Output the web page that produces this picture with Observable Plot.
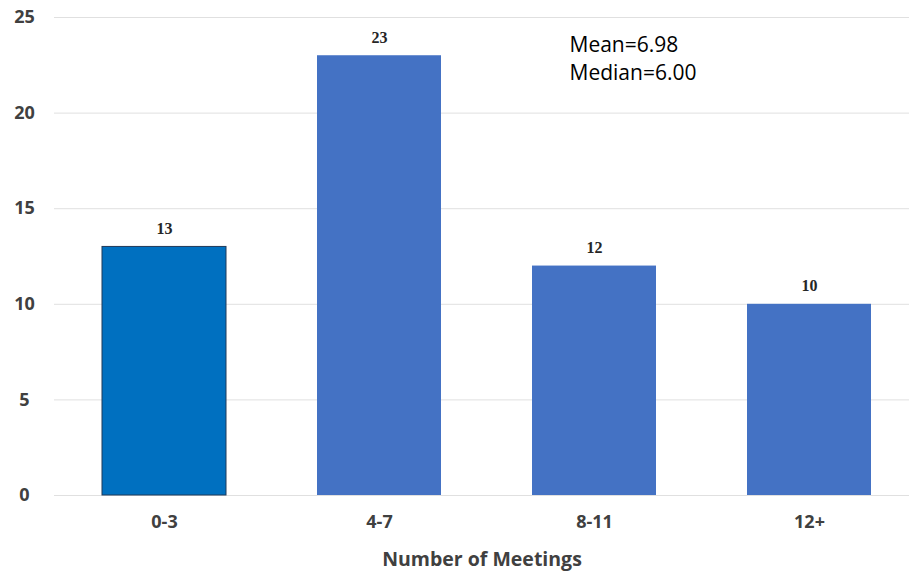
<!DOCTYPE html>
<html>
<head>
<meta charset="utf-8">
<script src="https://cdn.jsdelivr.net/npm/d3@7"></script>
<script src="https://cdn.jsdelivr.net/npm/@observablehq/plot@0.6"></script>
<style>
  body { margin: 0; background: #fff; }
  #chart svg { display: block; }
</style>
</head>
<body>
<div id="chart"></div>
<script>
const categories = ["0-3", "4-7", "8-11", "12+"];
const counts = [13, 23, 12, 10];
const yTicks = [0, 5, 10, 15, 20, 25];
const annotations = ["Mean=6.98", "Median=6.00"];
const xTitle = "Number of Meetings";

const data = categories.map((c, i) => ({category: c, count: counts[i], first: i === 0}));

const chart = Plot.plot({
  width: 909,
  height: 576,
  marginLeft: 54,
  marginRight: 0,
  marginTop: 17,
  marginBottom: 81,
  style: {fontFamily: "'Open Sans', sans-serif", background: "#fff"},
  x: {domain: categories, range: [55, 918], paddingInner: 0.425, paddingOuter: 0.2125, align: 0.5, label: null},
  y: {domain: [0, 25], label: null},
  marks: [
    Plot.ruleY(yTicks, {stroke: "#e0e0e0", strokeWidth: 1}),
    Plot.barY(data.filter(d => d.first), {x: "category", y: "count", fill: "#0070C0", stroke: "#1f3a5a", strokeWidth: 1}),
    Plot.barY(data.filter(d => !d.first), {x: "category", y: "count", fill: "#4472C4"}),
    Plot.text(data, {x: "category", y: "count", text: d => String(d.count), dy: -18, fill: "#262626",
      fontFamily: "'Liberation Serif', serif", fontWeight: "bold", fontSize: 16}),
    Plot.axisY({ticks: yTicks, tickSize: 0, tickPadding: 0, textAnchor: "middle", dx: -30,
      fontSize: 18, fontWeight: "bold", fill: "#404040", label: null}),
    Plot.axisX({tickSize: 0, tickPadding: 20, fontSize: 18, fontWeight: "bold", fill: "#404040", label: null}),
    Plot.text([xTitle], {frameAnchor: "bottom", text: d => d, dy: 70, fontSize: 19.5, fontWeight: "bold", fill: "#404040"}),
    Plot.text([annotations[0]], {frameAnchor: "top-left", text: d => d, dx: 515, dy: 20, fontSize: 21, fill: "#000", textAnchor: "start"}),
    Plot.text([annotations[1]], {frameAnchor: "top-left", text: d => d, dx: 515, dy: 48, fontSize: 21, fill: "#000", textAnchor: "start"})
  ]
});
document.getElementById("chart").appendChild(chart);
</script>
</body>
</html>
